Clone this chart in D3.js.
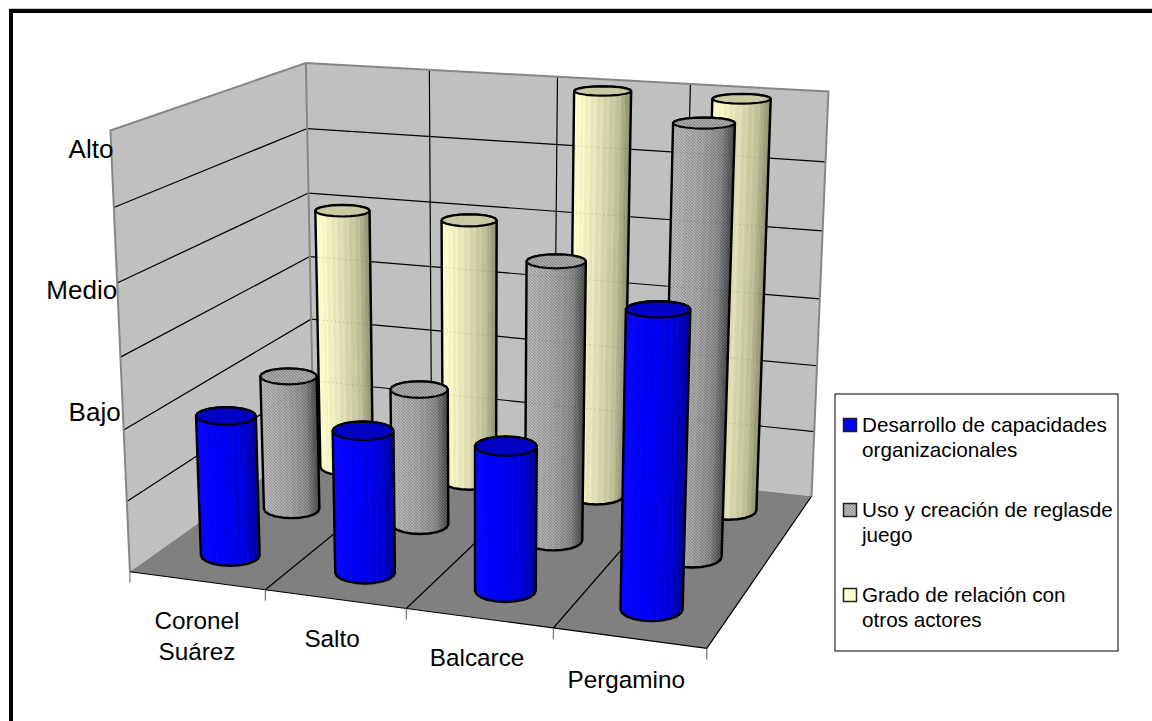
<!DOCTYPE html>
<html lang="es">
<head>
<meta charset="utf-8">
<title>Capacidades por localidad</title>
<script src="https://cdn.jsdelivr.net/npm/d3@7/dist/d3.min.js"></script>
<style>
  html, body { margin: 0; padding: 0; background: #fff; }
  svg { display: block; }
  text { font-family: "Liberation Sans", Arial, sans-serif; fill: #000; }
</style>
</head>
<body>
<svg id="chart" width="1152" height="721"></svg>
<script>
// Chart data
const categories = ["Coronel Suárez", "Salto", "Balcarce", "Pergamino"];
const seriesNames = [
  "Desarrollo de capacidades organizacionales",
  "Uso y creación de reglasde juego",
  "Grado de relación con otros actores"
];
const capacidades = [2, 2, 2, 4];
const reglas = [2, 2, 4, 6];
const relacion = [4, 4, 6, 6];
const levelNames = ["Bajo", "Medio", "Alto"];
const levelTicks = [2, 4, 6];

// Appearance of each series: side shading from lit to dark, and cap fill
const sideRamps = [
  ["#0a0aff", "#0000ee", "#0000c8", "#000088"],
  ["#b4b4b4", "#a2a2a2", "#868686", "#3c3c3c"],
  ["#ffffcc", "#dedcb2", "#bdbd98", "#86866a"]
];
const capFills = ["#0000c4", "#a2a2a2", "#c9c9a3"];
const swatchFills = ["#0000ff", "#b0b0b0", "#ffffcc"];

// Reference points of the box: [depth along categories, depth along series, height] to screen,
// with a fit weight; the floor corners count for more
const boxAnchors = [
  [[0, 0, 0], [130, 570], 3],
  [[1, 0, 0], [706, 651], 3],
  [[1, 1, 0], [812, 493], 3],
  [[0, 1, 0], [314, 447], 2],
  [[0, 0, 1], [112, 129], 2],
  [[0, 1, 1], [304, 62], 2],
  [[1, 1, 1], [829, 94], 2]
];

// Weighted least-squares fit of the 3x4 projection through the anchors
function fitProjection(anchors) {
  const rows = [], rhs = [];
  anchors.forEach(([[u, v, h], [x, y], w]) => {
    rows.push([u, v, h, 1, 0, 0, 0, 0, -x * u, -x * v, -x * h].map(c => c * w)); rhs.push(x * w);
    rows.push([0, 0, 0, 0, u, v, h, 1, -y * u, -y * v, -y * h].map(c => c * w)); rhs.push(y * w);
  });
  const n = 11;
  const a = d3.range(n).map(i => {
    const line = d3.range(n).map(j => d3.sum(rows, r => r[i] * r[j]));
    line.push(d3.sum(rows, (r, k) => r[i] * rhs[k]));
    return line;
  });
  for (let c = 0; c < n; c++) {
    let best = c;
    for (let r = c + 1; r < n; r++) if (Math.abs(a[r][c]) > Math.abs(a[best][c])) best = r;
    [a[c], a[best]] = [a[best], a[c]];
    for (let r = 0; r < n; r++) {
      if (r === c) continue;
      const f = a[r][c] / a[c][c];
      for (let k = c; k <= n; k++) a[r][k] -= f * a[c][k];
    }
  }
  return a.map((line, i) => line[n] / line[i]);
}
const P = fitProjection(boxAnchors);
const project = (u, v, h) => {
  const w = P[8] * u + P[9] * v + P[10] * h + 1;
  return [(P[0] * u + P[1] * v + P[2] * h + P[3]) / w,
          (P[4] * u + P[5] * v + P[6] * h + P[7]) / w];
};

// Scales into the unit box
const uScale = d3.scaleBand().domain(categories).range([0, 1]);
const vScale = d3.scaleBand().domain(seriesNames).range([0, 1]);
const hScale = d3.scaleLinear().domain([0, 6]).range([0, 1]);
const radiusShare = 0.2;

const svg = d3.select("#chart");
const defs = svg.append("defs");

// Fine diagonal grain used on the gray series
const grain = defs.append("pattern").attr("id", "grain")
  .attr("width", 3).attr("height", 3).attr("patternUnits", "userSpaceOnUse");
d3.range(3).forEach(i => {
  grain.append("rect").attr("x", i).attr("y", i).attr("width", 1).attr("height", 1)
    .attr("fill", "#000").attr("opacity", 0.16);
  grain.append("rect").attr("x", (i + 1) % 3).attr("y", i).attr("width", 1).attr("height", 1)
    .attr("fill", "#fff").attr("opacity", 0.12);
});

// Page frame: top and left rules only
svg.append("rect").attr("x", 9).attr("y", 8).attr("width", 1143).attr("height", 1).attr("fill", "#c8c8c8");
svg.append("rect").attr("x", 9).attr("y", 9).attr("width", 1143).attr("height", 4).attr("fill", "#000");
svg.append("rect").attr("x", 9).attr("y", 9).attr("width", 4).attr("height", 712).attr("fill", "#000");

const line = d3.line();
const plot = svg.append("g");
const polygon = pts => line(pts) + "Z";

// Walls and floor
plot.append("path").attr("d", polygon([[0,0,0],[0,1,0],[0,1,1],[0,0,1]].map(p => project(...p))))
  .attr("fill", "#c0c0c0");
plot.append("path").attr("d", polygon([[0,1,0],[1,1,0],[1,1,1],[0,1,1]].map(p => project(...p))))
  .attr("fill", "#c0c0c0");
plot.append("path").attr("d", polygon([[0,0,0],[1,0,0],[1,1,0],[0,1,0]].map(p => project(...p))))
  .attr("fill", "#808080");

// Gridlines on the walls and floor
const gridHeights = hScale.ticks(6).filter(t => t > 0).map(hScale);
const gridSegments = [];
gridHeights.filter(h => h < 1).forEach(h => {
  gridSegments.push([project(0, 0, h), project(0, 1, h)]);
  gridSegments.push([project(0, 1, h), project(1, 1, h)]);
});
d3.range(1, categories.length).forEach(i => {
  const u = i * uScale.step();
  gridSegments.push([project(u, 1, 0), project(u, 1, 1)]);
  gridSegments.push([project(u, 0, 0), project(u, 1, 0)]);
});
plot.append("g").selectAll("path").data(gridSegments).join("path")
  .attr("d", d => line(d)).attr("fill", "none").attr("stroke", "#000").attr("stroke-width", 1.2);

// Wall outlines
plot.append("path").attr("d", line([[0,0,0],[0,0,1],[0,1,1],[1,1,1],[1,1,0]].map(p => project(...p))))
  .attr("fill", "none").attr("stroke", "#868686").attr("stroke-width", 2);
plot.append("path").attr("d", line([[0,1,0],[0,1,1]].map(p => project(...p))))
  .attr("fill", "none").attr("stroke", "#868686").attr("stroke-width", 2);

// Front and right floor edges with category ticks
plot.append("path").attr("d", line([[0,0,0],[1,0,0],[1,1,0]].map(p => project(...p))))
  .attr("fill", "none").attr("stroke", "#000").attr("stroke-width", 1.2);
d3.range(0, categories.length + 1).forEach(i => {
  const [x, y] = project(i * uScale.step(), 0, 0);
  plot.append("line").attr("x1", x).attr("y1", y).attr("x2", x).attr("y2", y + 11)
    .attr("stroke", "#555").attr("stroke-width", 1);
});

// One cylinder: a stack of shaded facets, a dark outline and a level capped top.
// The round ends are drawn as level ovals sized from the projected circle.
const allValues = [capacidades, reglas, relacion];
function drawCylinder(si, ci, value) {
  const u0 = uScale(categories[ci]) + uScale.bandwidth() / 2;
  const v0 = vScale(seriesNames[si]) + vScale.bandwidth() / 2;
  const ru = uScale.step() * radiusShare, rv = vScale.step() * radiusShare;
  const h = hScale(value);
  const ring = (height, count) => {
    const circle = d3.range(48).map(i => {
      const t = 2 * Math.PI * i / 48;
      return project(u0 + ru * Math.cos(t), v0 + rv * Math.sin(t), height);
    });
    const [x0, x1] = d3.extent(circle, p => p[0]);
    const [y0, y1] = d3.extent(circle, p => p[1]);
    const [cx, cy] = project(u0, v0, height);
    return d3.range(count).map(i => {
      const t = 2 * Math.PI * i / count;
      return [cx + (x1 - x0) / 2 * Math.cos(t), cy + (y1 - y0) / 2 * Math.sin(t)];
    });
  };
  const g = plot.append("g");
  const hull = d3.polygonHull(ring(0, 20).concat(ring(h, 20)));
  const clipId = `clip-${si}-${ci}`;
  defs.append("clipPath").attr("id", clipId).append("path").attr("d", polygon(hull));

  const facetCount = 84;
  const low = ring(0, facetCount), top = ring(h, facetCount);
  const xs = d3.extent(top, p => p[0]);
  const shade = d3.scaleLinear().domain([0, 0.45, 0.78, 1]).range(sideRamps[si]).clamp(true);
  g.append("path").attr("d", polygon(hull)).attr("fill", shade(0.5));
  const bands = g.append("g").attr("clip-path", `url(#${clipId})`);
  d3.range(facetCount).forEach(i => {
    const j = (i + 1) % facetCount;
    const t = 2 * Math.PI * (i + 0.5) / facetCount;
    if (Math.sin(t) < 0) return;
    const mid = (top[i][0] + top[j][0]) / 2;
    const base = d3.color(shade((mid - xs[0]) / (xs[1] - xs[0])));
    const fill = (i % 3 === 0) ? base.brighter(si === 0 ? 0.55 : 0.12) : base;
    bands.append("path").attr("d", polygon([low[i], low[j], top[j], top[i]]))
      .attr("fill", fill).attr("stroke", fill).attr("stroke-width", 0.5);
  });
  if (si === 1) g.append("path").attr("d", polygon(hull)).attr("fill", "url(#grain)");

  // Faint traces of the gridlines that pass behind
  g.append("g").attr("clip-path", `url(#${clipId})`)
    .selectAll("path").data(gridSegments).join("path")
    .attr("d", d => line(d)).attr("fill", "none")
    .attr("stroke", "#000").attr("stroke-opacity", 0.22).attr("stroke-dasharray", "1 3");

  g.append("path").attr("d", polygon(hull)).attr("fill", "none")
    .attr("stroke", "#000").attr("stroke-width", 2.4).attr("stroke-linejoin", "round");
  const cap = polygon(ring(h, 20));
  g.append("path").attr("d", cap).attr("fill", capFills[si])
    .attr("stroke", "#000").attr("stroke-width", 2.2).attr("stroke-linejoin", "round");
  if (si === 1) g.append("path").attr("d", cap).attr("fill", "url(#grain)");
}
d3.range(seriesNames.length - 1, -1, -1).forEach(si => {
  allValues[si].forEach((value, ci) => drawCylinder(si, ci, value));
});

// Level labels beside the left wall
const levelLabelShift = [[-3, -9], [0, 16], [3, 27]];
levelNames.forEach((name, i) => {
  const [x, y] = project(0, 0, hScale(levelTicks[i]));
  svg.append("text").attr("x", x + levelLabelShift[i][0]).attr("y", y + levelLabelShift[i][1])
    .attr("text-anchor", "end").attr("font-size", 26).text(name);
});

// Category labels under the floor
const categoryLabelShift = [[0, 48], [-3, 48], [-2, 48], [-3, 50]];
categories.forEach((name, ci) => {
  const [x, y] = project(uScale(name) + uScale.bandwidth() / 2, 0, 0);
  const t = svg.append("text").attr("text-anchor", "middle").attr("font-size", 24.3);
  name.split(" ").forEach((word, i) => {
    t.append("tspan").attr("x", x + categoryLabelShift[ci][0])
      .attr("y", y + categoryLabelShift[ci][1] + i * 31).text(word);
  });
});

// Legend
const legendLines = [
  ["Desarrollo de capacidades", "organizacionales"],
  ["Uso y creación de reglasde", "juego"],
  ["Grado de relación con", "otros actores"]
];
const legendX = 835, legendY = 394, legendW = 283, legendH = 257;
const legend = svg.append("g");
legend.append("rect").attr("x", legendX).attr("y", legendY).attr("width", legendW).attr("height", legendH)
  .attr("fill", "#fff").attr("stroke", "#000").attr("stroke-width", 1);
const legendRow = d3.scaleLinear().domain([0, 2]).range([legendY + 38, legendY + 208]);
legendLines.forEach((lines, si) => {
  const base = legendRow(si);
  legend.append("rect").attr("x", 843.5).attr("y", base - 13.5).attr("width", 13).attr("height", 13)
    .attr("fill", swatchFills[si]).attr("stroke", "#222").attr("stroke-width", 1.5);
  if (si === 1) legend.append("rect").attr("x", 844).attr("y", base - 13).attr("width", 12).attr("height", 12)
    .attr("fill", "url(#grain)");
  lines.forEach((text, i) => {
    legend.append("text").attr("x", 862).attr("y", base + i * 24.5)
      .attr("font-size", 20.7)
      .text(text);
  });
});
</script>
</body>
</html>
